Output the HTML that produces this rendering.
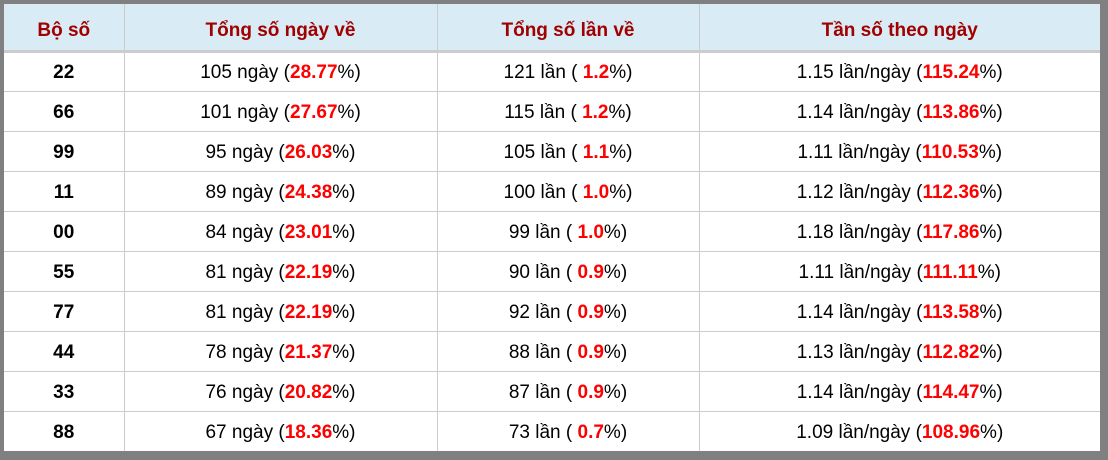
<!DOCTYPE html>
<html><head><meta charset="utf-8"><style>
body{margin:0;width:1108px;height:460px;background:#808080;overflow:hidden}
.w{position:absolute;left:4px;top:4px;width:1096px;height:447px;background:#fff}
table{border-collapse:collapse;width:1096px;font-family:"Liberation Sans",Arial,sans-serif;font-size:19px;table-layout:fixed}
th{background:#d9ebf5;color:#a00000;font-weight:bold;height:47px;box-sizing:border-box;border-right:1px solid #ccc;border-bottom:3px solid #ccc;padding:8px 0 0 0}
td{height:40px;box-sizing:border-box;border-right:1px solid #ccc;border-bottom:1px solid #ccc;text-align:center;padding:3px 0 0 0;color:#000}
tr:last-child td{border-bottom:none}
th:last-child,td:last-child{border-right:none}
td:first-child{font-weight:bold}
b{color:#f00}
</style></head><body><div class="w"><table>
<colgroup><col style="width:120px"><col style="width:313px"><col style="width:262px"><col></colgroup>
<tr><th>Bộ số</th><th>Tổng số ngày về</th><th>Tổng số lần về</th><th>Tần số theo ngày</th></tr>
<tr><td>22</td><td>105 ngày (<b>28.77</b>%)</td><td>121 lần ( <b>1.2</b>%)</td><td>1.15 lần/ngày (<b>115.24</b>%)</td></tr>
<tr><td>66</td><td>101 ngày (<b>27.67</b>%)</td><td>115 lần ( <b>1.2</b>%)</td><td>1.14 lần/ngày (<b>113.86</b>%)</td></tr>
<tr><td>99</td><td>95 ngày (<b>26.03</b>%)</td><td>105 lần ( <b>1.1</b>%)</td><td>1.11 lần/ngày (<b>110.53</b>%)</td></tr>
<tr><td>11</td><td>89 ngày (<b>24.38</b>%)</td><td>100 lần ( <b>1.0</b>%)</td><td>1.12 lần/ngày (<b>112.36</b>%)</td></tr>
<tr><td>00</td><td>84 ngày (<b>23.01</b>%)</td><td>99 lần ( <b>1.0</b>%)</td><td>1.18 lần/ngày (<b>117.86</b>%)</td></tr>
<tr><td>55</td><td>81 ngày (<b>22.19</b>%)</td><td>90 lần ( <b>0.9</b>%)</td><td>1.11 lần/ngày (<b>111.11</b>%)</td></tr>
<tr><td>77</td><td>81 ngày (<b>22.19</b>%)</td><td>92 lần ( <b>0.9</b>%)</td><td>1.14 lần/ngày (<b>113.58</b>%)</td></tr>
<tr><td>44</td><td>78 ngày (<b>21.37</b>%)</td><td>88 lần ( <b>0.9</b>%)</td><td>1.13 lần/ngày (<b>112.82</b>%)</td></tr>
<tr><td>33</td><td>76 ngày (<b>20.82</b>%)</td><td>87 lần ( <b>0.9</b>%)</td><td>1.14 lần/ngày (<b>114.47</b>%)</td></tr>
<tr><td>88</td><td>67 ngày (<b>18.36</b>%)</td><td>73 lần ( <b>0.7</b>%)</td><td>1.09 lần/ngày (<b>108.96</b>%)</td></tr>
</table></div></body></html>
